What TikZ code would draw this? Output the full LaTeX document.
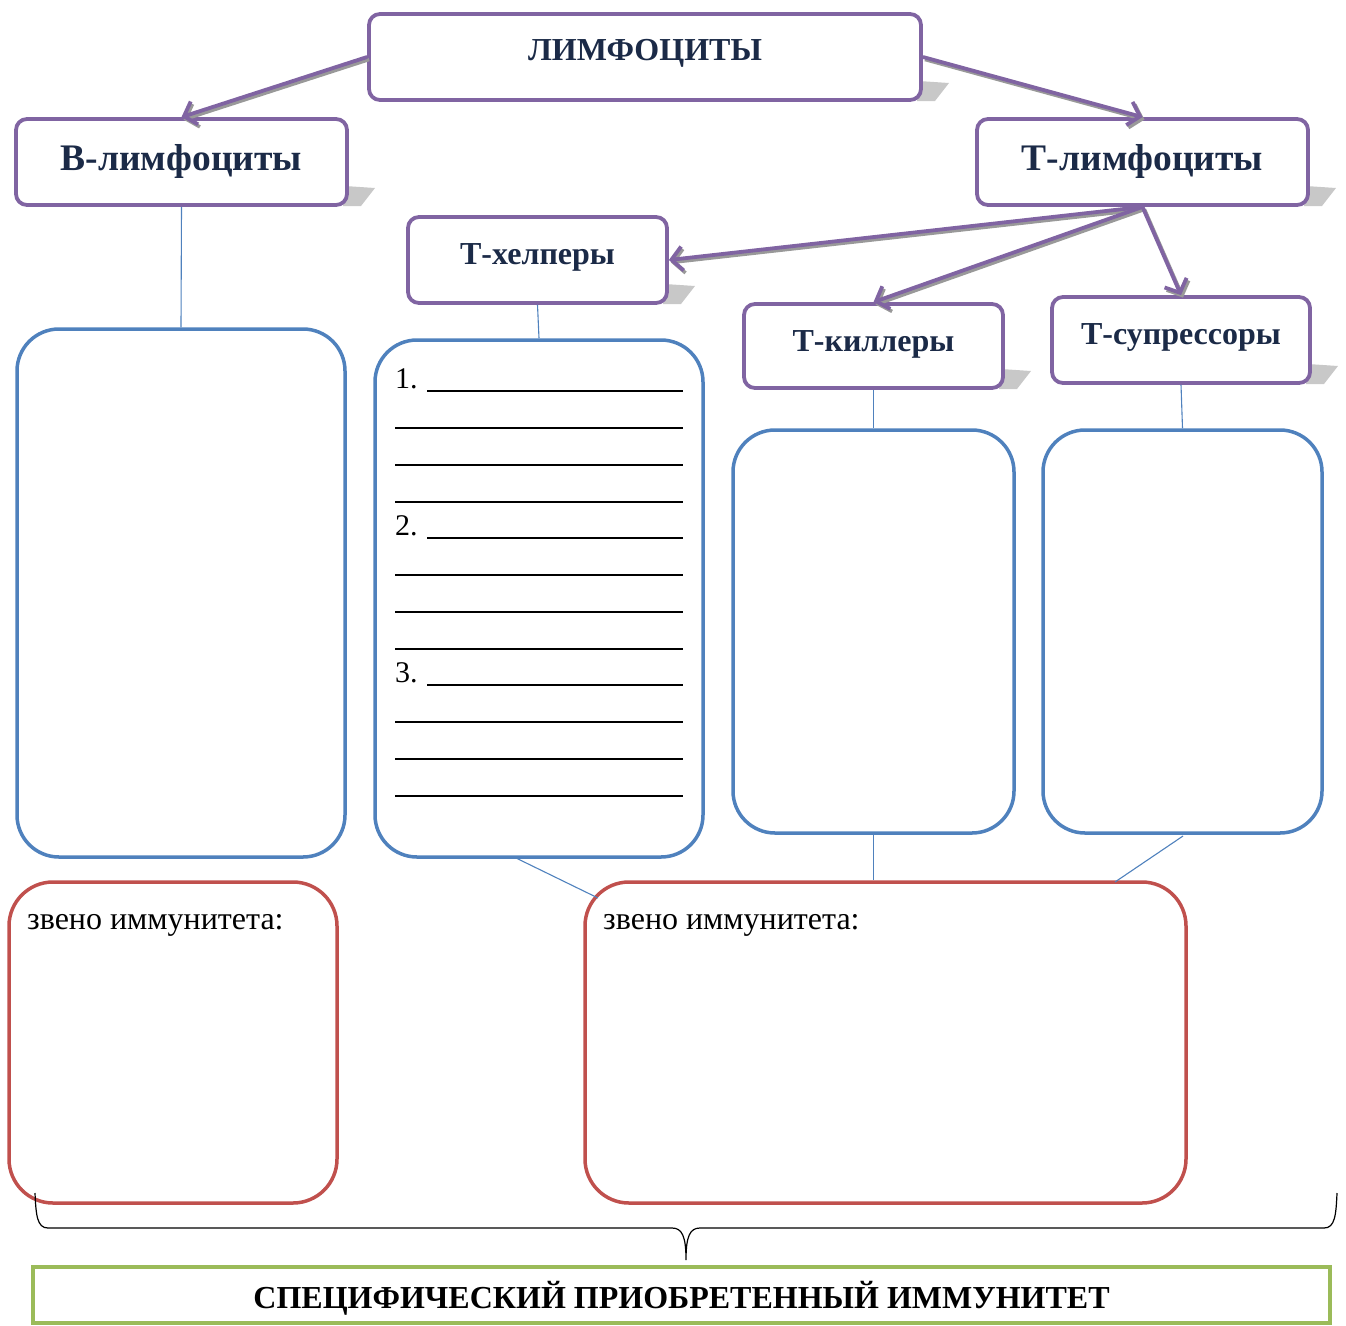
\documentclass[tikz,border=0pt]{standalone}
\usepackage{fontspec}
\setmainfont{Liberation Serif}
\usetikzlibrary{arrows.meta,calc}
\definecolor{purp}{HTML}{8064A2}
\definecolor{navy}{HTML}{1B2A47}
\definecolor{bluebox}{HTML}{4F81BD}
\definecolor{redbox}{HTML}{C0504D}
\definecolor{greenbox}{HTML}{9BBB59}
\definecolor{shad}{HTML}{C8C8C8}
\newcommand\boxshadow[2]{\fill[shad] (#1-2,#2-19) -- (#1+28,#2-17) -- (#1+14,#2+1) -- (#1-4,#2+1) -- cycle;}
\tikzset{
  pbox/.style={draw=purp, line width=3.8pt, rounded corners=11pt, fill=white, inner sep=0pt},
  plbl/.style={text=navy, font=\bfseries},
  bbox/.style={draw=bluebox, line width=3.5pt, rounded corners=42pt, inner sep=0pt},
  rbox/.style={draw=redbox, line width=3.5pt, rounded corners=44pt, inner sep=0pt},
  thin/.style={draw=bluebox, line width=1.1pt},
  parrow/.style={draw=purp, line width=3.8pt, -{Straight Barb[length=11pt,width=24pt]}},
  sarrow/.style={draw=gray!80, line width=3.5pt, -{Straight Barb[length=11pt,width=24pt]}, transform canvas={xshift=2pt,yshift=-2.5pt}},
  uline/.style={draw=black, line width=1.2pt},
  numtxt/.style={anchor=base west, inner sep=0pt, font=\fontsize{30}{34}\selectfont},
  zvtxt/.style={anchor=base west, inner sep=0pt, font=\fontsize{32}{36}\selectfont},
}
\begin{document}
\begin{tikzpicture}[x=1pt,y=-1pt]
\useasboundingbox (0,0) rectangle (1346,1325);
% shadows of purple boxes
\boxshadow{921}{100}
\boxshadow{347}{205}
\boxshadow{1308}{205}
\boxshadow{667}{303}
\boxshadow{1003}{388}
\boxshadow{1310}{383}
% purple boxes
\node[pbox, minimum width=552, minimum height=86, label={[plbl,font=\bfseries\fontsize{32}{36}\selectfont,yshift=4pt]center:ЛИМФОЦИТЫ}] (lim) at (645,57) {};
\node[pbox, minimum width=331, minimum height=86, label={[plbl,font=\bfseries\fontsize{37.5}{42}\selectfont,yshift=1pt]center:В-лимфоциты}] (bl) at (181.5,162) {};
\node[pbox, minimum width=331, minimum height=86, label={[plbl,font=\bfseries\fontsize{37.5}{42}\selectfont,yshift=1pt]center:Т-лимфоциты}] (tl) at (1142.5,162) {};
\node[pbox, minimum width=259, minimum height=86, label={[plbl,font=\bfseries\fontsize{32}{36}\selectfont,yshift=3pt]center:Т-хелперы}] (th) at (537.5,260) {};
\node[pbox, minimum width=259, minimum height=84, label={[plbl,font=\bfseries\fontsize{32}{36}\selectfont,yshift=2pt]center:Т-киллеры}] (tk) at (873.5,346) {};
\node[pbox, minimum width=258, minimum height=86, label={[plbl,font=\bfseries\fontsize{32}{36}\selectfont,yshift=3pt]center:Т-супрессоры}] (ts) at (1181,340) {};
% arrows
\draw[sarrow] (lim.west) -- (bl.north);
\draw[parrow] (lim.west) -- (bl.north);
\draw[sarrow] (lim.east) -- (tl.north);
\draw[parrow] (lim.east) -- (tl.north);
\draw[sarrow] (tl.south) -- (th.east);
\draw[parrow] (tl.south) -- (th.east);
\draw[sarrow] (tl.south) -- (tk.north);
\draw[parrow] (tl.south) -- (tk.north);
\draw[sarrow] (tl.south) -- (ts.north);
\draw[parrow] (tl.south) -- (ts.north);
% blue boxes
\node[bbox, minimum width=328, minimum height=528] (bb) at (181,593) {};
\node[bbox, minimum width=328, minimum height=517] (hb) at (539,598.5) {};
\node[bbox, minimum width=281, minimum height=403] (kb) at (873.5,631.5) {};
\node[bbox, minimum width=279, minimum height=403] (sb) at (1182.5,631.5) {};
\draw[thin] (bl.south) -- (bb.north);
\draw[thin] (th.south) -- (hb.north);
\draw[thin] (tk.south) -- (kb.north);
\draw[thin] (ts.south) -- (sb.north);
% list in helper box
\foreach \k/\n in {0/1,1/2,2/3}{
  \node[numtxt] (num\n) at (395,388+147*\k) {\n.};
  \draw[uline] (427,391+147*\k) -- (683,391+147*\k);
  \draw[uline] (395,428+147*\k) -- (683,428+147*\k);
  \draw[uline] (395,465+147*\k) -- (683,465+147*\k);
  \draw[uline] (395,502+147*\k) -- (683,502+147*\k);
}
% red boxes
\node[rbox, minimum width=328, minimum height=321] (rl) at (173,1042.5) {};
\node[rbox, minimum width=601, minimum height=321] (rr) at (885.5,1042.5) {};
\node[zvtxt] (zl) at (27,929) {звено иммунитета:};
\node[zvtxt] (zr) at (603,929) {звено иммунитета:};
\coordinate (c1) at (516,858);
\coordinate (c2) at (598,898);
\coordinate (c3) at (1183,836);
\coordinate (c4) at (1115,882);
\draw[thin] (c1) -- (c2);
\draw[thin] (kb.south) -- (kb.south |- rr.north);
\draw[thin] (c3) -- (c4);
% brace
\coordinate (bL) at (35,1193);
\coordinate (bM) at (686,1260);
\coordinate (bR) at (1337,1193);
\draw[line width=1.2pt] (bL) .. controls (36,1215) and (37,1228) .. (48,1228) -- (672,1228)
  .. controls (682,1228) and (686,1236) .. (bM)
  .. controls (686,1236) and (690,1228) .. (700,1228) -- (1324,1228)
  .. controls (1335,1228) and (1336,1215) .. (bR);
% green box
\node[draw=greenbox, line width=4pt, minimum width=1297, minimum height=56, inner sep=0pt,
  label={[font=\bfseries\fontsize{32}{36}\selectfont,yshift=-3pt]center:СПЕЦИФИЧЕСКИЙ ПРИОБРЕТЕННЫЙ ИММУНИТЕТ}] (spec) at (681.5,1295) {};
\end{tikzpicture}
\end{document}
